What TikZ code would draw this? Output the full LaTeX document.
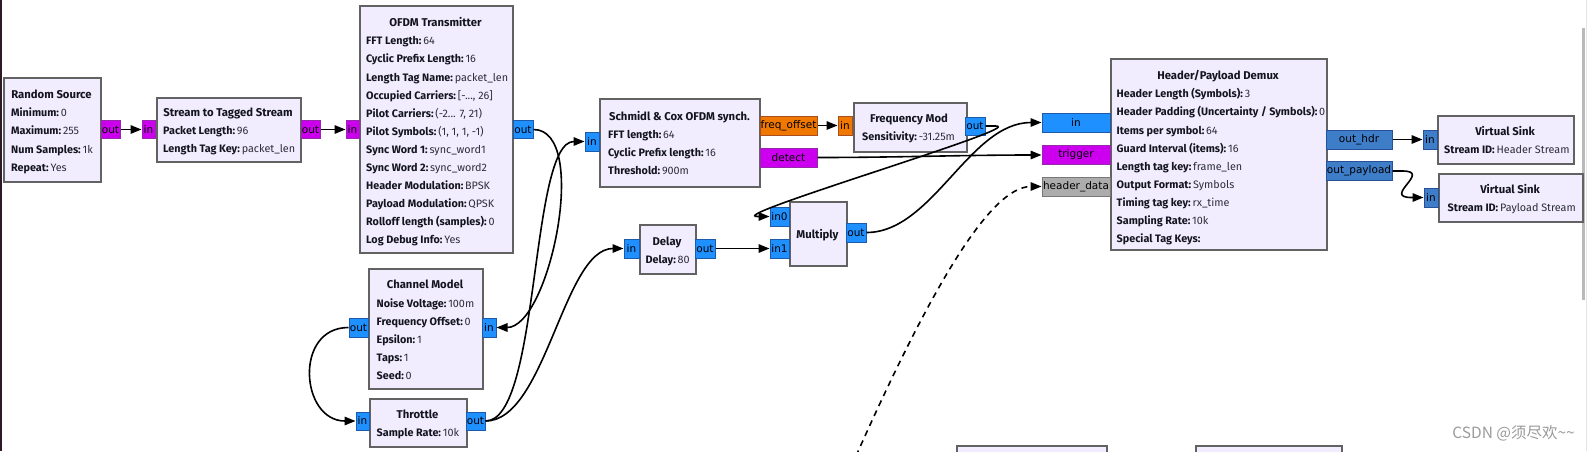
\documentclass[tikz,border=0pt]{standalone}
\usepackage{fontspec}
\setmainfont{Fira Sans}
\newfontfamily\portfam{DejaVu Sans}
\newfontfamily\cjk{Noto Sans CJK SC}
\usetikzlibrary{arrows.meta}
\definecolor{blockfill}{RGB}{241,237,255}
\definecolor{bordergray}{RGB}{98,98,98}
\definecolor{txt}{RGB}{20,20,30}
\definecolor{valtxt}{RGB}{45,45,55}
\definecolor{bytefill}{RGB}{204,0,238}
\definecolor{bytedraw}{RGB}{150,40,170}
\definecolor{cplxfill}{RGB}{30,144,255}
\definecolor{cplxdraw}{RGB}{30,90,170}
\definecolor{fltfill}{RGB}{240,120,0}
\definecolor{fltdraw}{RGB}{170,80,30}
\definecolor{grayfill}{RGB}{172,172,172}
\definecolor{graydraw}{RGB}{120,120,120}
\definecolor{stfill}{RGB}{62,125,200}
\definecolor{stdraw}{RGB}{40,80,150}
\definecolor{wm}{RGB}{155,155,155}
\definecolor{leftedge}{RGB}{45,25,40}
\newcommand\myrowfont{\fontsize{10.8}{12}\selectfont}
\newcommand\myttlfont{\bfseries\fontsize{11.3}{12}\selectfont}
\newcommand\myportfont{\portfam\fontsize{10.5}{12}\selectfont}
\newcommand\mkblk[5]{\node[blkstyle, minimum width={#4-#2}, minimum height={#5-#3}] (#1) at (#2,#3) {};}
\newcommand\mkrows[4]{%
  \foreach \k/\v [count=\i] in {#4} {
    \node[rowstyle] (#1-r\i) at (#2,{#3+3.8+(\i-1)*18.1}) {\textbf{\k:}\,{\color{valtxt}\v}};
  }}
\begin{document}
\begin{tikzpicture}[x=1pt,y=-1pt,
  blkstyle/.style={draw=bordergray, fill=blockfill, line width=1.8, anchor=north west, inner sep=0},
  ttl/.style={font=\myttlfont, text=txt, inner sep=0, anchor=base},
  rowstyle/.style={font=\myrowfont, text=txt, anchor=base west, inner sep=0},
  port/.style={minimum height=18, inner sep=0, line width=1, font=\myportfont, text=black},
  pm/.style={port, fill=bytefill, draw=bytedraw},
  pb/.style={port, fill=cplxfill, draw=cplxdraw},
  po/.style={port, fill=fltfill, draw=fltdraw},
  pg/.style={port, fill=grayfill, draw=graydraw},
  ps/.style={port, fill=stfill, draw=stdraw},
  conn/.style={draw=black, line width=1.6, -{Triangle[length=11pt,width=8.5pt]}},
]
\useasboundingbox (0,0) rectangle (1587,451);
\clip (0,0) rectangle (1587,451);
\fill[white] (0,0) rectangle (1587,451);
\fill[leftedge] (0,0) rectangle (2,451);
\fill[gray!55] (1582,28) rectangle (1584.5,300);
\fill[gray!20] (1586,0) rectangle (1587,451);

% blocks
\mkblk{rs}{3}{77}{100}{181}
\mkblk{sts}{156}{97}{300}{161}
\mkblk{ofdm}{359}{5}{512}{252}
\mkblk{sc}{599}{98}{759}{186}
\mkblk{fm}{853}{102}{966}{151}
\mkblk{ch}{368}{268}{482}{388}
\mkblk{thr}{369}{398}{466}{446}
\mkblk{dly}{639}{224}{695}{273}
\mkblk{mul}{789}{201}{846}{265}
\mkblk{dmx}{1110}{58}{1326}{249}
\mkblk{vs1}{1437}{115}{1573}{163}
\mkblk{vs2}{1438}{173}{1582}{221}
\mkblk{bot1}{956}{445}{1106}{470}
\mkblk{bot2}{1195}{445}{1341}{470}

% titles
\node[ttl] (rs-t) at (51.5,98) {Random Source};
\node[ttl] (sts-t) at (228,116) {Stream to Tagged Stream};
\node[ttl] (ofdm-t) at (435.5,26) {OFDM Transmitter};
\node[ttl] (sc-t) at (679.5,120) {Schmidl \& Cox OFDM synch.};
\node[ttl] (fm-t) at (909,122) {Frequency Mod};
\node[ttl] (ch-t) at (425,288.3) {Channel Model};
\node[ttl] (thr-t) at (417.5,418.3) {Throttle};
\node[ttl] (dly-t) at (667,245) {Delay};
\node[ttl] (mul-t) at (817.5,238) {Multiply};
\node[ttl] (dmx-t) at (1218,79) {Header/Payload Demux};
\node[ttl] (vs1-t) at (1505,135) {Virtual Sink};
\node[ttl] (vs2-t) at (1510,193.3) {Virtual Sink};

% parameter rows
\mkrows{rs}{11}{113}{Minimum/0, Maximum/255, Num Samples/1k, Repeat/Yes}
\mkrows{sts}{163}{131}{Packet Length/96, Length Tag Key/packet\_len}
\mkrows{ofdm}{366}{41}{FFT Length/64, Cyclic Prefix Length/16, Length Tag Name/packet\_len, Occupied Carriers/{[-..., 26]}, Pilot Carriers/{(-2... 7, 21)}, Pilot Symbols/{(1, 1, 1, -1)}, Sync Word 1/sync\_word1, Sync Word 2/sync\_word2, Header Modulation/BPSK, Payload Modulation/QPSK, Rolloff length (samples)/0, Log Debug Info/Yes}
\mkrows{sc}{608}{134.7}{FFT length/64, Cyclic Prefix length/16, Threshold/900m}
\mkrows{fm}{862}{137}{Sensitivity/-31.25m}
\mkrows{ch}{376.5}{303.3}{Noise Voltage/100m, Frequency Offset/0, Epsilon/1, Taps/1, Seed/0}
\mkrows{thr}{376.5}{433}{Sample Rate/10k}
\mkrows{dly}{645.5}{260}{Delay/80}
\mkrows{dmx}{1116.5}{94}{Header Length (Symbols)/3, {Header Padding (Uncertainty / Symbols)}/0, Items per symbol/64, Guard Interval (items)/16, Length tag key/frame\_len, Output Format/Symbols, Timing tag key/rx\_time, Sampling Rate/10k, Special Tag Keys/{}}
\mkrows{vs1}{1444}{150}{Stream ID/Header Stream}
\mkrows{vs2}{1447.5}{208}{Stream ID/Payload Stream}

% ports
\node[pm, minimum width=19] (rs-out) at (110.5,129.5) {out};
\node[pm, minimum width=13] (sts-in) at (148.5,129.5) {in};
\node[pm, minimum width=19] (sts-out) at (310.5,129.5) {out};
\node[pm, minimum width=13] (ofdm-in) at (352.5,129.5) {in};
\node[pb, minimum width=20] (ofdm-out) at (523,129.5) {out};
\node[pb, minimum width=14, minimum height=19] (sc-in) at (592,141.5) {in};
\node[po, minimum width=57, minimum height=19] (sc-fo) at (788.5,125.5) {freq\_offset};
\node[pm, minimum width=57, minimum height=19] (sc-det) at (788.5,157.5) {detect};
\node[po, minimum width=14, minimum height=19] (fm-in) at (845,125.5) {in};
\node[pb, minimum width=20] (fm-out) at (975,126) {out};
\node[pb, minimum width=19, minimum height=19] (ch-out) at (358.5,327.5) {out};
\node[pb, minimum width=14, minimum height=19] (ch-in) at (489,327.5) {in};
\node[pb, minimum width=13] (thr-in) at (362.5,421) {in};
\node[pb, minimum width=19] (thr-out) at (475.5,421) {out};
\node[pb, minimum width=15, minimum height=19] (dly-in) at (631.5,248.5) {in};
\node[pb, minimum width=20, minimum height=19] (dly-out) at (705,248.5) {out};
\node[pb, minimum width=19, minimum height=19] (mul-in0) at (779.5,216.5) {in0};
\node[pb, minimum width=19, minimum height=19] (mul-in1) at (779.5,248.5) {in1};
\node[pb, minimum width=20, minimum height=19] (mul-out) at (856,232.5) {out};
\node[pb, minimum width=68, minimum height=19] (dmx-in) at (1076,122.5) {in};
\node[pm, minimum width=68, minimum height=19] (dmx-trg) at (1076,155) {trigger};
\node[pg, minimum width=68, minimum height=19] (dmx-hd) at (1076,186.5) {header\_data};
\node[ps, minimum width=66, minimum height=19] (dmx-oh) at (1359,139.5) {out\_hdr};
\node[ps, minimum width=66, minimum height=19] (dmx-op) at (1359,171) {out\_payload};
\node[ps, minimum width=14, minimum height=19] (vs1-in) at (1430,139.5) {in};
\node[ps, minimum width=14, minimum height=19] (vs2-in) at (1431,197.5) {in};

% connectors
\draw[conn] (rs-out.east) -- (sts-in.west);
\draw[conn] (sts-out.east) -- (ofdm-in.west);
\draw[conn] (ofdm-out.east) .. controls +(57,0) and +(53,0) .. (ch-in.east);
\draw[conn] (ch-out.west) .. controls +(-55,0) and +(-55,0) .. (thr-in.west);
\draw[conn] (thr-out.east) .. controls +(55,0) and +(-55,0) .. (sc-in.west);
\draw[conn] (thr-out.east) .. controls +(60,0) and +(-60,0) .. (dly-in.west);
\draw[conn] (dly-out.east) -- (mul-in1.west);
\draw[conn] (sc-fo.east) -- (fm-in.west);
\draw[conn] (sc-det.east) .. controls +(80,0) and +(-80,0) .. (dmx-trg.west);
\draw[conn] (fm-out.east) -- ++(10,0) .. controls +(35,0) and +(-35,0) .. ([xshift=-12pt]mul-in0.west) -- (mul-in0.west);
\draw[conn] (mul-out.east) .. controls +(66,0) and +(-72,0) .. (dmx-in.west);
\coordinate (hd-src) at (856,456);
\draw[conn, dash pattern=on 6pt off 5pt] (hd-src) .. controls (930,290) and (990,186.5) .. (dmx-hd.west);
\draw[conn] (dmx-oh.east) -- (vs1-in.west);
\draw[conn] (dmx-op.east) -- ++(10,0) .. controls +(30,0) and +(-30,0) .. ([xshift=-12pt]vs2-in.west) -- (vs2-in.west);

\node[anchor=east, font=\cjk\fontsize{15.5}{17}\selectfont, text=wm, inner sep=0] (wm) at (1575,433) {CSDN @须尽欢\textasciitilde\textasciitilde};
\end{tikzpicture}
\end{document}
